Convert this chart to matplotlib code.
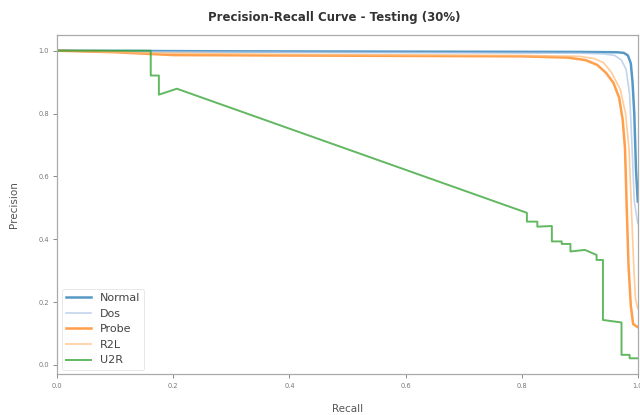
import numpy as np
import matplotlib
matplotlib.use("Agg")
import matplotlib.pyplot as plt

# PR curves (recall, precision vertices)
normal_recall = [0.0, 0.30, 0.60, 0.90, 0.965, 0.976, 0.983, 0.988, 0.991, 0.994, 0.997, 1.0]
normal_prec   = [1.0, 0.998, 0.997, 0.996, 0.995, 0.993, 0.985, 0.960, 0.900, 0.800, 0.620, 0.52]

dos_recall = [0.0, 0.20, 0.50, 0.90, 0.940, 0.960, 0.972, 0.980, 0.986, 0.990, 0.994, 1.0]
dos_prec   = [1.0, 0.996, 0.994, 0.992, 0.990, 0.985, 0.970, 0.940, 0.860, 0.700, 0.520, 0.45]

probe_recall = [0.0, 0.10, 0.20, 0.50, 0.80, 0.880, 0.910, 0.930, 0.945, 0.958, 0.968, 0.974, 0.978, 0.981, 0.984, 0.988, 0.992, 1.0]
probe_prec   = [1.0, 0.995, 0.986, 0.984, 0.982, 0.978, 0.970, 0.955, 0.930, 0.898, 0.850, 0.780, 0.690, 0.500, 0.320, 0.190, 0.130, 0.12]

r2l_recall = [0.0, 0.15, 0.40, 0.80, 0.900, 0.925, 0.941, 0.955, 0.970, 0.979, 0.985, 0.989, 0.993, 0.996, 1.0]
r2l_prec   = [1.0, 0.993, 0.988, 0.985, 0.982, 0.975, 0.962, 0.930, 0.876, 0.800, 0.685, 0.500, 0.320, 0.210, 0.18]

u2r_recall = [0.0, 0.161, 0.161, 0.175, 0.175, 0.206, 0.809, 0.809, 0.827, 0.827, 0.852, 0.852,
              0.869, 0.869, 0.884, 0.884, 0.909, 0.929, 0.929, 0.940, 0.940, 0.972, 0.972,
              0.986, 0.986, 1.0]
u2r_prec   = [1.0, 1.0, 0.921, 0.921, 0.860, 0.879, 0.484, 0.456, 0.456, 0.440, 0.442, 0.393,
              0.393, 0.385, 0.385, 0.361, 0.366, 0.350, 0.334, 0.334, 0.143, 0.135, 0.032,
              0.032, 0.021, 0.021]

labels = ["Normal", "Dos", "Probe", "R2L", "U2R"]
colors = ["#1f77b4", "#aec7e8", "#ff7f0e", "#ffbb78", "#2ca02c"]
curves = [(normal_recall, normal_prec), (dos_recall, dos_prec), (probe_recall, probe_prec),
          (r2l_recall, r2l_prec), (u2r_recall, u2r_prec)]
widths = [1.8, 1.2, 1.8, 1.2, 1.4]

fig = plt.figure(figsize=(6.4, 4.15), dpi=100)
ax = fig.add_axes([0.0895, 0.098, 0.907, 0.8177])

for (r, p), lab, c, w in zip(curves, labels, colors, widths):
    ax.plot(r, p, color=c, lw=w, label=lab, alpha=0.75)

ax.set_xlim(0, 1.0)
ax.set_ylim(-0.03, 1.05)
ax.set_xticks(np.arange(0, 1.01, 0.2))
ax.set_yticks(np.arange(0, 1.01, 0.2))
ax.tick_params(labelsize=4.8, colors="#777777", length=3, width=0.6, pad=3)
for s in ax.spines.values():
    s.set_color("#aaaaaa")
    s.set_linewidth(0.9)

ax.set_xlabel("Recall", fontsize=7.5, color="#555555", labelpad=11)
ax.set_ylabel("Precision", fontsize=7.5, color="#555555", labelpad=14)
fig.text(0.523, 0.957, "Precision-Recall Curve - Testing (30%)", ha="center", va="center",
         fontsize=8.5, fontweight="bold", color="#333333")

leg = ax.legend(loc="lower left", fontsize=8, frameon=True, borderaxespad=0.4,
                labelspacing=0.5, handlelength=2.2)
leg.get_frame().set_edgecolor("#dddddd")
leg.get_frame().set_linewidth(0.6)
for t in leg.get_texts():
    t.set_color("#444444")

plt.savefig("out.png", dpi=100, facecolor="white")
